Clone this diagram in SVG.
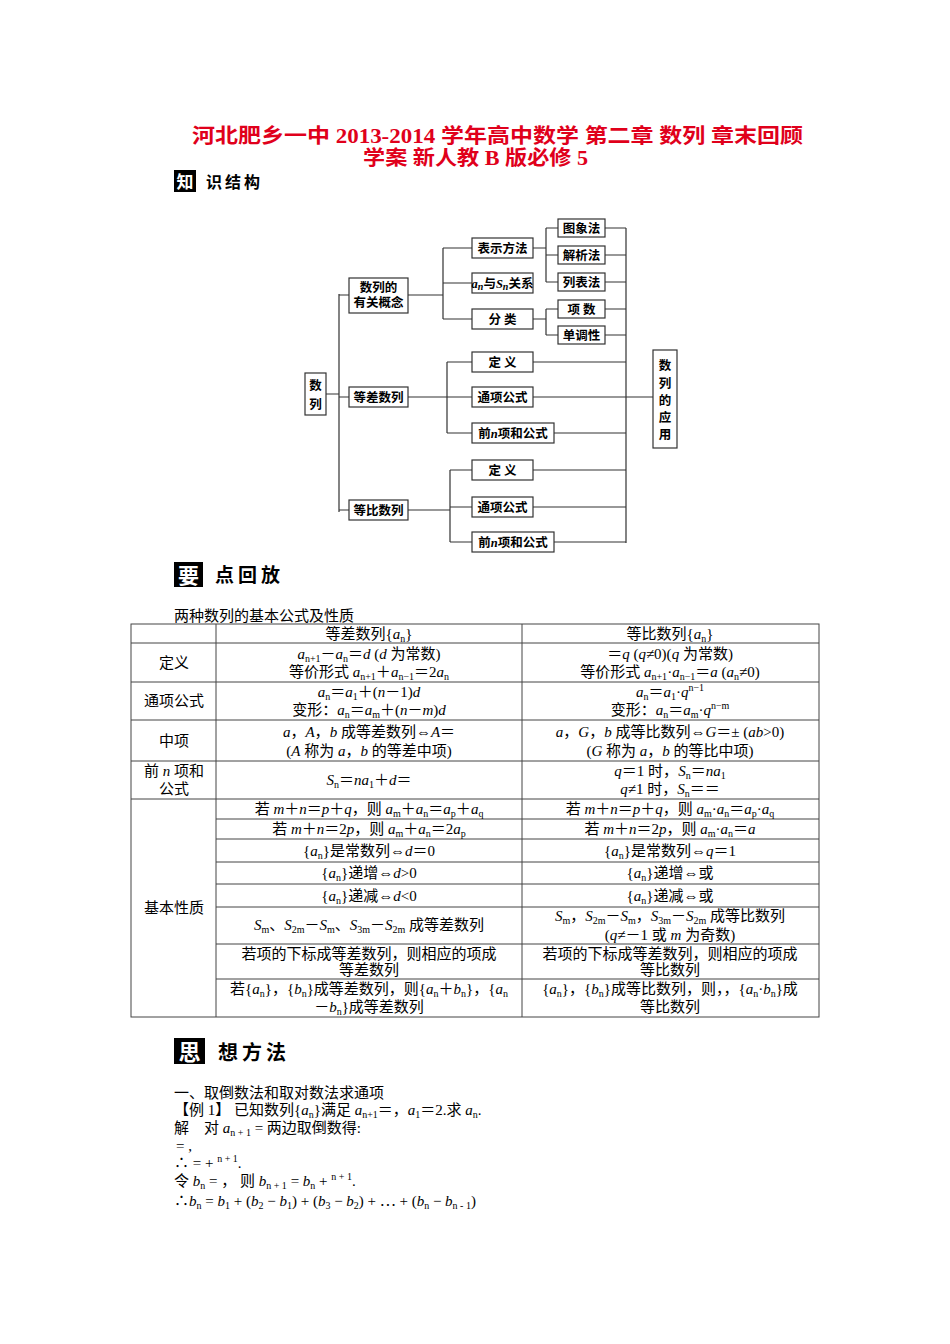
<svg xmlns="http://www.w3.org/2000/svg" width="950" height="1344" viewBox="0 0 950 1344">
<style>
.t{font-family:"Liberation Serif","Noto Sans CJK SC",serif;font-size:15px;fill:#000}
.tb{font-family:"Liberation Serif","Noto Sans CJK SC",serif;font-size:12.5px;font-weight:bold;fill:#000}
.box{fill:#fff;stroke:#333;stroke-width:1.2}
.ln{fill:none;stroke:#333;stroke-width:1.2}
.tl{fill:none;stroke:#444;stroke-width:1}
.s{font-size:10px}
.h{font-family:"Liberation Serif","Noto Sans CJK SC",serif;font-size:20px;font-weight:bold;fill:#e0001b}
.sec{font-family:"Noto Sans CJK SC",sans-serif;font-weight:bold;fill:#000}
</style>
<rect width="950" height="1344" fill="#fff"/>
<text class="h" x="192" y="143" textLength="611" lengthAdjust="spacingAndGlyphs">河北肥乡一中 2013-2014 学年高中数学  第二章  数列  章末回顾</text>
<text class="h" x="363" y="165" textLength="225" lengthAdjust="spacingAndGlyphs">学案  新人教 B 版必修 5</text>
<rect x="174" y="170" width="22" height="22" fill="#000"/>
<text class="sec" x="185" y="188" font-size="17" text-anchor="middle" style="fill:#fff">知</text>
<text class="sec" x="206" y="188" font-size="16" letter-spacing="3">识结构</text>

<g id="connectors">
<path class="ln" d="M326 394H339M339 294V512M339 295H349M339 397H349M339 510H349"/>
<path class="ln" d="M408 295H443M443 248V319M443 248H472M443 283H472M443 319H472"/>
<path class="ln" d="M533 248H546M546 228V282M546 228H558M546 255H558M546 282H558M533 319H546M546 309V335M546 309H558M546 335H558"/>
<path class="ln" d="M408 397H472M447 362V433M447 362H472M447 433H472"/>
<path class="ln" d="M408 510H450M450 470V542M450 470H472M450 507H472M450 542H472"/>
<path class="ln" d="M605 228H626M605 255H626M605 282H626M605 309H626M605 335H626M533 362H626M533 397H653M554 433H626M533 470H626M533 507H626M554 542H626M626 228V543"/>
</g>
<g id="n-shulie"><rect class="box" x="305" y="373" width="21" height="42"/><text class="tb" x="315.5" y="390" text-anchor="middle">数</text><text class="tb" x="315.5" y="409" text-anchor="middle">列</text></g>
<g id="n-gainian"><rect class="box" x="349" y="278" width="59" height="35"/><text class="tb" x="378.5" y="292" text-anchor="middle">数列的</text><text class="tb" x="378.5" y="307" text-anchor="middle">有关概念</text></g>
<g id="n-dengcha"><rect class="box" x="349" y="387" width="59" height="20"/><text class="tb" x="378.5" y="402" text-anchor="middle">等差数列</text></g>
<g id="n-dengbi"><rect class="box" x="349" y="500" width="59" height="20"/><text class="tb" x="378.5" y="515" text-anchor="middle">等比数列</text></g>
<g id="n-biaoshi"><rect class="box" x="472" y="238" width="61" height="20"/><text class="tb" x="502.5" y="253" text-anchor="middle">表示方法</text></g>
<g id="n-ansn"><rect class="box" x="472" y="273" width="61" height="20"/><text class="tb" x="502.5" y="288" text-anchor="middle"><tspan font-style="italic">a</tspan><tspan class="s" dy="2" font-style="italic">n</tspan><tspan dy="-2">与</tspan><tspan font-style="italic">S</tspan><tspan class="s" dy="2" font-style="italic">n</tspan><tspan dy="-2">关系</tspan></text></g>
<g id="n-fenlei"><rect class="box" x="472" y="309" width="61" height="20"/><text class="tb" x="502.5" y="324" text-anchor="middle">分 类</text></g>
<g id="n-tuxiang"><rect class="box" x="558" y="219" width="47" height="18"/><text class="tb" x="581.5" y="233" text-anchor="middle">图象法</text></g>
<g id="n-jiexi"><rect class="box" x="558" y="246" width="47" height="18"/><text class="tb" x="581.5" y="260" text-anchor="middle">解析法</text></g>
<g id="n-liebiao"><rect class="box" x="558" y="273" width="47" height="18"/><text class="tb" x="581.5" y="287" text-anchor="middle">列表法</text></g>
<g id="n-xiangshu"><rect class="box" x="558" y="300" width="47" height="18"/><text class="tb" x="581.5" y="314" text-anchor="middle">项 数</text></g>
<g id="n-dandiao"><rect class="box" x="558" y="326" width="47" height="18"/><text class="tb" x="581.5" y="340" text-anchor="middle">单调性</text></g>
<g id="n-dy1"><rect class="box" x="472" y="352" width="61" height="20"/><text class="tb" x="502.5" y="367" text-anchor="middle">定 义</text></g>
<g id="n-tx1"><rect class="box" x="472" y="387" width="61" height="20"/><text class="tb" x="502.5" y="402" text-anchor="middle">通项公式</text></g>
<g id="n-qn1"><rect class="box" x="472" y="423" width="82" height="20"/><text class="tb" x="513" y="438" text-anchor="middle">前<tspan font-style="italic">n</tspan>项和公式</text></g>
<g id="n-dy2"><rect class="box" x="472" y="460" width="61" height="20"/><text class="tb" x="502.5" y="475" text-anchor="middle">定 义</text></g>
<g id="n-tx2"><rect class="box" x="472" y="497" width="61" height="20"/><text class="tb" x="502.5" y="512" text-anchor="middle">通项公式</text></g>
<g id="n-qn2"><rect class="box" x="472" y="532" width="82" height="20"/><text class="tb" x="513" y="547" text-anchor="middle">前<tspan font-style="italic">n</tspan>项和公式</text></g>
<g id="n-yingyong"><rect class="box" x="653" y="350" width="24" height="98"/>
<text class="tb" x="665" y="370" text-anchor="middle">数</text><text class="tb" x="665" y="388" text-anchor="middle">列</text><text class="tb" x="665" y="405" text-anchor="middle">的</text><text class="tb" x="665" y="422" text-anchor="middle">应</text><text class="tb" x="665" y="439" text-anchor="middle">用</text></g>

<rect x="174" y="562" width="29" height="25" fill="#000"/>
<text class="sec" x="188.5" y="583" font-size="21" text-anchor="middle" style="fill:#fff">要</text>
<text class="sec" x="215" y="582" font-size="19" letter-spacing="4">点回放</text>

<text class="t" x="174" y="621">两种数列的基本公式及性质</text>
<g id="table">
<rect class="tl" x="131" y="624" width="688" height="393"/>
<path class="tl" d="M216 624V1017M522 624V1017M131 643H819M131 682H819M131 720H819M131 761H819M131 799H819M216 819H819M216 839H819M216 862H819M216 884H819M216 907H819M216 944H819M216 979H819"/>
<g class="t" text-anchor="middle">
<text x="369" y="639">等差数列{<tspan font-style="italic">a</tspan><tspan class="s" dy="3">n</tspan><tspan dy="-3">}</tspan></text>
<text x="670" y="639">等比数列{<tspan font-style="italic">a</tspan><tspan class="s" dy="3">n</tspan><tspan dy="-3">}</tspan></text>
<text x="174" y="668">定义</text>
<text x="369" y="659"><tspan font-style="italic">a</tspan><tspan class="s" dy="3">n+1</tspan><tspan dy="-3">－</tspan><tspan font-style="italic">a</tspan><tspan class="s" dy="3">n</tspan><tspan dy="-3">＝</tspan><tspan font-style="italic">d</tspan> (<tspan font-style="italic">d</tspan> 为常数)</text>
<text x="369" y="677">等价形式 <tspan font-style="italic">a</tspan><tspan class="s" dy="3">n+1</tspan><tspan dy="-3">＋</tspan><tspan font-style="italic">a</tspan><tspan class="s" dy="3">n−1</tspan><tspan dy="-3">＝2</tspan><tspan font-style="italic">a</tspan><tspan class="s" dy="3">n</tspan></text>
<text x="670" y="659">＝<tspan font-style="italic">q</tspan> (<tspan font-style="italic">q</tspan>≠0)(<tspan font-style="italic">q</tspan> 为常数)</text>
<text x="670" y="677">等价形式 <tspan font-style="italic">a</tspan><tspan class="s" dy="3">n+1</tspan><tspan dy="-3">·</tspan><tspan font-style="italic">a</tspan><tspan class="s" dy="3">n−1</tspan><tspan dy="-3">＝</tspan><tspan font-style="italic">a</tspan> (<tspan font-style="italic">a</tspan><tspan class="s" dy="3">n</tspan><tspan dy="-3">≠0)</tspan></text>
<text x="174" y="706">通项公式</text>
<text x="369" y="697"><tspan font-style="italic">a</tspan><tspan class="s" dy="3">n</tspan><tspan dy="-3">＝</tspan><tspan font-style="italic">a</tspan><tspan class="s" dy="3">1</tspan><tspan dy="-3">＋(</tspan><tspan font-style="italic">n</tspan>－1)<tspan font-style="italic">d</tspan></text>
<text x="369" y="715">变形：<tspan font-style="italic">a</tspan><tspan class="s" dy="3">n</tspan><tspan dy="-3">＝</tspan><tspan font-style="italic">a</tspan><tspan class="s" dy="3">m</tspan><tspan dy="-3">＋(</tspan><tspan font-style="italic">n</tspan>－<tspan font-style="italic">m</tspan>)<tspan font-style="italic">d</tspan></text>
<text x="670" y="697"><tspan font-style="italic">a</tspan><tspan class="s" dy="3">n</tspan><tspan dy="-3">＝</tspan><tspan font-style="italic">a</tspan><tspan class="s" dy="3">1</tspan><tspan dy="-3">·</tspan><tspan font-style="italic">q</tspan><tspan class="s" dy="-6">n−1</tspan></text>
<text x="670" y="715">变形：<tspan font-style="italic">a</tspan><tspan class="s" dy="3">n</tspan><tspan dy="-3">＝</tspan><tspan font-style="italic">a</tspan><tspan class="s" dy="3">m</tspan><tspan dy="-3">·</tspan><tspan font-style="italic">q</tspan><tspan class="s" dy="-6">n−m</tspan></text>
<text x="174" y="746">中项</text>
<text x="369" y="737"><tspan font-style="italic">a</tspan>，<tspan font-style="italic">A</tspan>，<tspan font-style="italic">b</tspan> 成等差数列⇔<tspan font-style="italic">A</tspan>＝</text>
<text x="369" y="756">(<tspan font-style="italic">A</tspan> 称为 <tspan font-style="italic">a</tspan>，<tspan font-style="italic">b</tspan> 的等差中项)</text>
<text x="670" y="737"><tspan font-style="italic">a</tspan>，<tspan font-style="italic">G</tspan>，<tspan font-style="italic">b</tspan> 成等比数列⇔<tspan font-style="italic">G</tspan>＝± (<tspan font-style="italic">ab</tspan>&gt;0)</text>
<text x="670" y="756">(<tspan font-style="italic">G</tspan> 称为 <tspan font-style="italic">a</tspan>，<tspan font-style="italic">b</tspan> 的等比中项)</text>
<text x="174" y="776">前 <tspan font-style="italic">n</tspan> 项和</text>
<text x="174" y="794">公式</text>
<text x="369" y="785"><tspan font-style="italic">S</tspan><tspan class="s" dy="3">n</tspan><tspan dy="-3">＝</tspan><tspan font-style="italic">na</tspan><tspan class="s" dy="3">1</tspan><tspan dy="-3">＋</tspan><tspan font-style="italic">d</tspan>＝</text>
<text x="670" y="776"><tspan font-style="italic">q</tspan>＝1 时，<tspan font-style="italic">S</tspan><tspan class="s" dy="3">n</tspan><tspan dy="-3">＝</tspan><tspan font-style="italic">na</tspan><tspan class="s" dy="3">1</tspan></text>
<text x="670" y="794"><tspan font-style="italic">q</tspan>≠1 时，<tspan font-style="italic">S</tspan><tspan class="s" dy="3">n</tspan><tspan dy="-3">＝＝</tspan></text>
<text x="174" y="913">基本性质</text>
<text x="369" y="814">若 <tspan font-style="italic">m</tspan>＋<tspan font-style="italic">n</tspan>＝<tspan font-style="italic">p</tspan>＋<tspan font-style="italic">q</tspan>，则 <tspan font-style="italic">a</tspan><tspan class="s" dy="3">m</tspan><tspan dy="-3">＋</tspan><tspan font-style="italic">a</tspan><tspan class="s" dy="3">n</tspan><tspan dy="-3">＝</tspan><tspan font-style="italic">a</tspan><tspan class="s" dy="3">p</tspan><tspan dy="-3">＋</tspan><tspan font-style="italic">a</tspan><tspan class="s" dy="3">q</tspan></text>
<text x="670" y="814">若 <tspan font-style="italic">m</tspan>＋<tspan font-style="italic">n</tspan>＝<tspan font-style="italic">p</tspan>＋<tspan font-style="italic">q</tspan>，则 <tspan font-style="italic">a</tspan><tspan class="s" dy="3">m</tspan><tspan dy="-3">·</tspan><tspan font-style="italic">a</tspan><tspan class="s" dy="3">n</tspan><tspan dy="-3">＝</tspan><tspan font-style="italic">a</tspan><tspan class="s" dy="3">p</tspan><tspan dy="-3">·</tspan><tspan font-style="italic">a</tspan><tspan class="s" dy="3">q</tspan></text>
<text x="369" y="834">若 <tspan font-style="italic">m</tspan>＋<tspan font-style="italic">n</tspan>＝2<tspan font-style="italic">p</tspan>，则 <tspan font-style="italic">a</tspan><tspan class="s" dy="3">m</tspan><tspan dy="-3">＋</tspan><tspan font-style="italic">a</tspan><tspan class="s" dy="3">n</tspan><tspan dy="-3">＝2</tspan><tspan font-style="italic">a</tspan><tspan class="s" dy="3">p</tspan></text>
<text x="670" y="834">若 <tspan font-style="italic">m</tspan>＋<tspan font-style="italic">n</tspan>＝2<tspan font-style="italic">p</tspan>，则 <tspan font-style="italic">a</tspan><tspan class="s" dy="3">m</tspan><tspan dy="-3">·</tspan><tspan font-style="italic">a</tspan><tspan class="s" dy="3">n</tspan><tspan dy="-3">＝</tspan><tspan font-style="italic">a</tspan></text>
<text x="369" y="856">{<tspan font-style="italic">a</tspan><tspan class="s" dy="3">n</tspan><tspan dy="-3">}是常数列⇔</tspan><tspan font-style="italic">d</tspan>＝0</text>
<text x="670" y="856">{<tspan font-style="italic">a</tspan><tspan class="s" dy="3">n</tspan><tspan dy="-3">}是常数列⇔</tspan><tspan font-style="italic">q</tspan>＝1</text>
<text x="369" y="878">{<tspan font-style="italic">a</tspan><tspan class="s" dy="3">n</tspan><tspan dy="-3">}递增⇔</tspan><tspan font-style="italic">d</tspan>&gt;0</text>
<text x="670" y="878">{<tspan font-style="italic">a</tspan><tspan class="s" dy="3">n</tspan><tspan dy="-3">}递增⇔或</tspan></text>
<text x="369" y="901">{<tspan font-style="italic">a</tspan><tspan class="s" dy="3">n</tspan><tspan dy="-3">}递减⇔</tspan><tspan font-style="italic">d</tspan>&lt;0</text>
<text x="670" y="901">{<tspan font-style="italic">a</tspan><tspan class="s" dy="3">n</tspan><tspan dy="-3">}递减⇔或</tspan></text>
<text x="369" y="930"><tspan font-style="italic">S</tspan><tspan class="s" dy="3">m</tspan><tspan dy="-3">、</tspan><tspan font-style="italic">S</tspan><tspan class="s" dy="3">2m</tspan><tspan dy="-3">－</tspan><tspan font-style="italic">S</tspan><tspan class="s" dy="3">m</tspan><tspan dy="-3">、</tspan><tspan font-style="italic">S</tspan><tspan class="s" dy="3">3m</tspan><tspan dy="-3">－</tspan><tspan font-style="italic">S</tspan><tspan class="s" dy="3">2m</tspan><tspan dy="-3"> 成等差数列</tspan></text>
<text x="670" y="921"><tspan font-style="italic">S</tspan><tspan class="s" dy="3">m</tspan><tspan dy="-3">，</tspan><tspan font-style="italic">S</tspan><tspan class="s" dy="3">2m</tspan><tspan dy="-3">－</tspan><tspan font-style="italic">S</tspan><tspan class="s" dy="3">m</tspan><tspan dy="-3">，</tspan><tspan font-style="italic">S</tspan><tspan class="s" dy="3">3m</tspan><tspan dy="-3">－</tspan><tspan font-style="italic">S</tspan><tspan class="s" dy="3">2m</tspan><tspan dy="-3"> 成等比数列</tspan></text>
<text x="670" y="940">(<tspan font-style="italic">q</tspan>≠－1 或 <tspan font-style="italic">m</tspan> 为奇数)</text>
<text x="369" y="959">若项的下标成等差数列，则相应的项成</text>
<text x="369" y="975">等差数列</text>
<text x="670" y="959">若项的下标成等差数列，则相应的项成</text>
<text x="670" y="975">等比数列</text>
<text x="369" y="994">若{<tspan font-style="italic">a</tspan><tspan class="s" dy="3">n</tspan><tspan dy="-3">}，{</tspan><tspan font-style="italic">b</tspan><tspan class="s" dy="3">n</tspan><tspan dy="-3">}成等差数列，则{</tspan><tspan font-style="italic">a</tspan><tspan class="s" dy="3">n</tspan><tspan dy="-3">＋</tspan><tspan font-style="italic">b</tspan><tspan class="s" dy="3">n</tspan><tspan dy="-3">}，{</tspan><tspan font-style="italic">a</tspan><tspan class="s" dy="3">n</tspan></text>
<text x="369" y="1012">－<tspan font-style="italic">b</tspan><tspan class="s" dy="3">n</tspan><tspan dy="-3">}成等差数列</tspan></text>
<text x="670" y="994">{<tspan font-style="italic">a</tspan><tspan class="s" dy="3">n</tspan><tspan dy="-3">}，{</tspan><tspan font-style="italic">b</tspan><tspan class="s" dy="3">n</tspan><tspan dy="-3">}成等比数列，则，，{</tspan><tspan font-style="italic">a</tspan><tspan class="s" dy="3">n</tspan><tspan dy="-3">·</tspan><tspan font-style="italic">b</tspan><tspan class="s" dy="3">n</tspan><tspan dy="-3">}成</tspan></text>
<text x="670" y="1012">等比数列</text>
</g>
</g>

<rect x="174" y="1038" width="31" height="26" fill="#000"/>
<text class="sec" x="189.5" y="1060" font-size="22" text-anchor="middle" style="fill:#fff">思</text>
<text class="sec" x="218" y="1060" font-size="20" letter-spacing="4">想方法</text>

<g class="t">
<text x="174" y="1098">一、取倒数法和取对数法求通项</text>
<text x="174" y="1115">【例 1】 已知数列{<tspan font-style="italic">a</tspan><tspan class="s" dy="3">n</tspan><tspan dy="-3">}满足 </tspan><tspan font-style="italic">a</tspan><tspan class="s" dy="3">n+1</tspan><tspan dy="-3">＝，</tspan><tspan font-style="italic">a</tspan><tspan class="s" dy="3">1</tspan><tspan dy="-3">＝2.求 </tspan><tspan font-style="italic">a</tspan><tspan class="s" dy="3">n</tspan><tspan dy="-3">.</tspan></text>
<text x="174" y="1133">解　对 <tspan font-style="italic">a</tspan><tspan class="s" dy="3">n + 1</tspan><tspan dy="-3"> = 两边取倒数得:</tspan></text>
<text x="176" y="1151">= ,</text>
<text x="174" y="1168">∴ =  + <tspan class="s" dy="-6">n + 1</tspan><tspan dy="6">.</tspan></text>
<text x="174" y="1186">令 <tspan font-style="italic">b</tspan><tspan class="s" dy="3">n</tspan><tspan dy="-3"> = ， 则 </tspan><tspan font-style="italic">b</tspan><tspan class="s" dy="3">n + 1</tspan><tspan dy="-3"> = </tspan><tspan font-style="italic">b</tspan><tspan class="s" dy="3">n</tspan><tspan dy="-3"> + </tspan><tspan class="s" dy="-6">n + 1</tspan><tspan dy="6">.</tspan></text>
<text x="174" y="1206">∴<tspan font-style="italic">b</tspan><tspan class="s" dy="3">n</tspan><tspan dy="-3"> = </tspan><tspan font-style="italic">b</tspan><tspan class="s" dy="3">1</tspan><tspan dy="-3"> + (</tspan><tspan font-style="italic">b</tspan><tspan class="s" dy="3">2</tspan><tspan dy="-3"> − </tspan><tspan font-style="italic">b</tspan><tspan class="s" dy="3">1</tspan><tspan dy="-3">) + (</tspan><tspan font-style="italic">b</tspan><tspan class="s" dy="3">3</tspan><tspan dy="-3"> − </tspan><tspan font-style="italic">b</tspan><tspan class="s" dy="3">2</tspan><tspan dy="-3">) + ⋯ + (</tspan><tspan font-style="italic">b</tspan><tspan class="s" dy="3">n</tspan><tspan dy="-3"> − </tspan><tspan font-style="italic">b</tspan><tspan class="s" dy="3">n - 1</tspan><tspan dy="-3">)</tspan></text>
</g>
</svg>
